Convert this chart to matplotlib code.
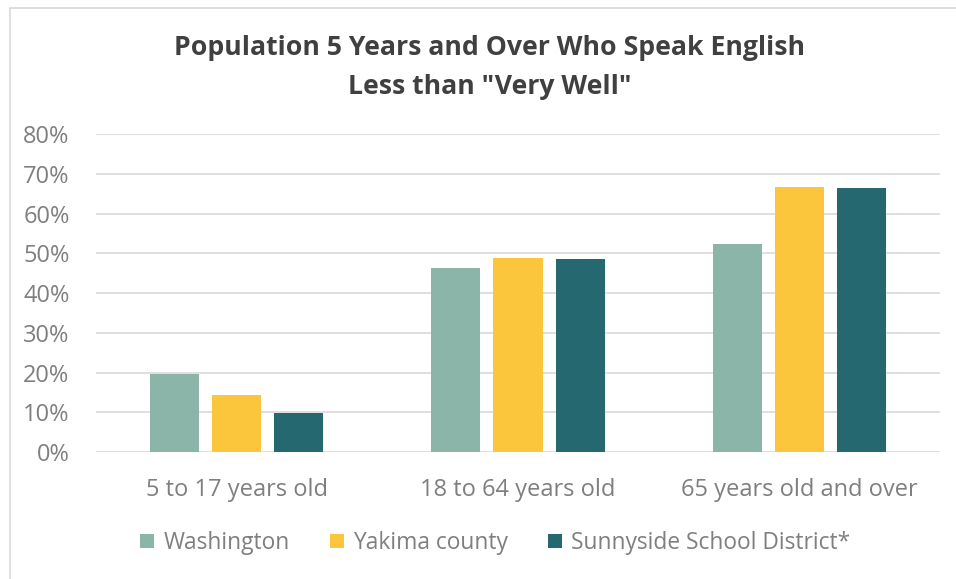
import matplotlib
matplotlib.use("Agg")
import matplotlib.pyplot as plt
import numpy as np
from matplotlib.patches import Rectangle, Patch

categories = ["5 to 17 years old", "18 to 64 years old", "65 years old and over"]
series_names = ["Washington", "Yakima county", "Sunnyside School District*"]
washington = [0.196, 0.464, 0.523]
yakima = [0.144, 0.489, 0.667]
sunnyside = [0.099, 0.486, 0.663]
yticks = [0, 0.1, 0.2, 0.3, 0.4, 0.5, 0.6, 0.7, 0.8]
colors = ["#8CB5AA", "#FBC53C", "#25686F"]

plt.rcParams['font.family'] = ['Open Sans', 'DejaVu Sans']

W, H = 956, 579
fig = plt.figure(figsize=(W/100, H/100), dpi=100)

# chart frame
fig.patches.append(Rectangle((10/W, -0.1), 1.2, (H-8)/H + 0.1, transform=fig.transFigure,
                             fill=False, edgecolor="#D9D9D9", linewidth=1.2))

ax = fig.add_axes([96/W, (H-452)/H, (940-96)/W, (452-134)/H])
x = np.arange(len(categories))
bw = 0.175
step = bw + 0.046
for i, (vals, c) in enumerate(zip([washington, yakima, sunnyside], colors)):
    ax.bar(x + (i-1)*step, vals, width=bw, color=c, zorder=3)

ax.set_xlim(-0.5, 2.5)
ax.set_ylim(0, 0.8)
ax.set_yticks(yticks)
ax.set_yticklabels([f"{int(round(t*100))}%" for t in yticks])
ax.set_xticks(x)
ax.set_xticklabels(categories)
ax.grid(axis='y', color="#D9D9D9", linewidth=1.2, zorder=0)
for s in ax.spines.values():
    s.set_visible(False)
ax.tick_params(axis='both', length=0, colors="#7F7F7F", labelsize=17)
ax.tick_params(axis='y', pad=19)
ax.tick_params(axis='x', pad=19)

fig.text(0.512, (H-48)/H, "Population 5 Years and Over Who Speak English", ha='center', va='center',
         fontsize=19.2, fontweight='bold', color="#404040")
fig.text(0.512, (H-87)/H, "Less than \"Very Well\"", ha='center', va='center',
         fontsize=19.2, fontweight='bold', color="#404040")

handles = [Patch(facecolor=c, edgecolor='none') for c in colors]
leg = fig.legend(handles, series_names, loc='center', bbox_to_anchor=(0.518, (H-543)/H), ncol=3,
                 frameon=False, fontsize=16.4, labelcolor="#7F7F7F", handlelength=0.62, handleheight=0.62,
                 handletextpad=0.4, columnspacing=1.75)

fig.savefig("out.png", dpi=100)
